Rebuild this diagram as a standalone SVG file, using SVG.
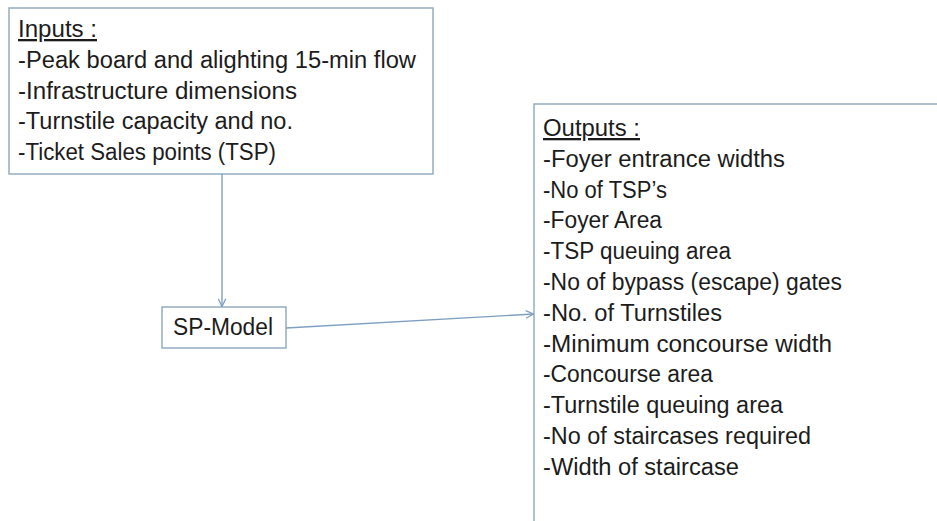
<svg xmlns="http://www.w3.org/2000/svg" width="937" height="521" viewBox="0 0 937 521">
  <style>
    .box { fill: #ffffff; stroke: #95adc0; stroke-width: 1.5; }
    .txt { font-family: "Liberation Sans", Arial, sans-serif; font-size: 23px; fill: #1c1c1c; }
    .head { text-decoration: underline; }
    .link { fill: none; stroke: #7f9fc2; stroke-width: 1.4; }
  </style>
  <defs>
    <marker id="vee" viewBox="0 0 10 10" refX="9.5" refY="5" markerWidth="9" markerHeight="9" markerUnits="userSpaceOnUse" orient="auto">
      <path d="M1,0.8 L9.5,5 L1,9.2" fill="none" stroke="#7f9fc2" stroke-width="1.4"/>
    </marker>
  </defs>
  <rect width="937" height="521" fill="#ffffff"/>

  <g id="inputs">
    <rect class="box" x="9" y="8" width="424" height="166"/>
    <text class="txt head" x="18" y="37" textLength="79" lengthAdjust="spacingAndGlyphs">Inputs :</text>
    <text class="txt" x="18" y="67.8" textLength="398" lengthAdjust="spacingAndGlyphs">-Peak board and alighting 15-min flow</text>
    <text class="txt" x="18" y="98.6" textLength="279" lengthAdjust="spacingAndGlyphs">-Infrastructure dimensions</text>
    <text class="txt" x="18" y="129.4" textLength="275" lengthAdjust="spacingAndGlyphs">-Turnstile capacity and no.</text>
    <text class="txt" x="18" y="160.2" textLength="258" lengthAdjust="spacingAndGlyphs">-Ticket Sales points (TSP)</text>
  </g>

  <g id="sp-model">
    <rect class="box" x="162" y="307" width="124" height="41"/>
    <text class="txt" x="173" y="335" font-size="24" textLength="100" lengthAdjust="spacingAndGlyphs">SP-Model</text>
  </g>

  <g id="outputs">
    <rect class="box" x="534" y="104" width="420" height="440"/>
    <text class="txt head" x="543" y="136" textLength="97" lengthAdjust="spacingAndGlyphs">Outputs :</text>
    <text class="txt" x="543" y="166.8" textLength="242" lengthAdjust="spacingAndGlyphs">-Foyer entrance widths</text>
    <text class="txt" x="543" y="197.6" textLength="124" lengthAdjust="spacingAndGlyphs">-No of TSP’s</text>
    <text class="txt" x="543" y="228.4" textLength="119" lengthAdjust="spacingAndGlyphs">-Foyer Area</text>
    <text class="txt" x="543" y="259.2" textLength="188" lengthAdjust="spacingAndGlyphs">-TSP queuing area</text>
    <text class="txt" x="543" y="290" textLength="299" lengthAdjust="spacingAndGlyphs">-No of bypass (escape) gates</text>
    <text class="txt" x="543" y="320.8" textLength="179" lengthAdjust="spacingAndGlyphs">-No. of Turnstiles</text>
    <text class="txt" x="543" y="351.6" textLength="289" lengthAdjust="spacingAndGlyphs">-Minimum concourse width</text>
    <text class="txt" x="543" y="382.4" textLength="170" lengthAdjust="spacingAndGlyphs">-Concourse area</text>
    <text class="txt" x="543" y="413.2" textLength="240" lengthAdjust="spacingAndGlyphs">-Turnstile queuing area</text>
    <text class="txt" x="543" y="444" textLength="268" lengthAdjust="spacingAndGlyphs">-No of staircases required</text>
    <text class="txt" x="543" y="474.8" textLength="196" lengthAdjust="spacingAndGlyphs">-Width of staircase</text>
  </g>

  <g id="connectors">
    <path class="link" d="M222,174 L222,306.5" marker-end="url(#vee)"/>
    <path class="link" d="M286,328 L533.5,314" marker-end="url(#vee)"/>
  </g>
</svg>
